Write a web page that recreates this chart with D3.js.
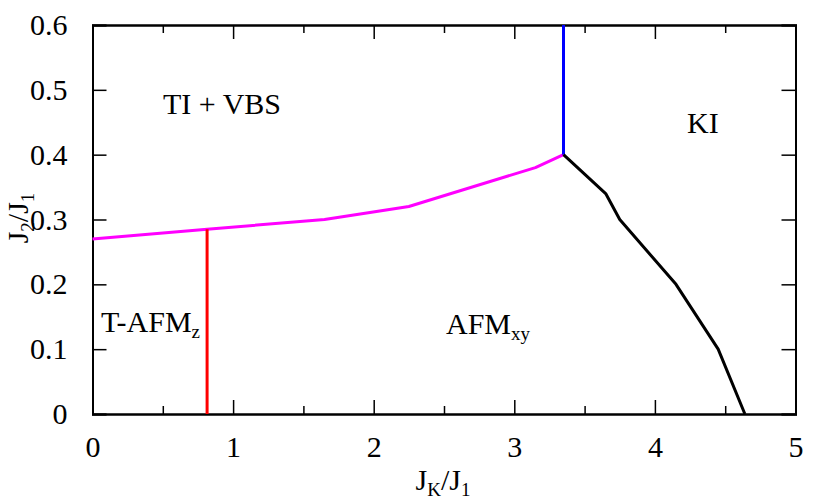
<!DOCTYPE html>
<html><head><meta charset="utf-8">
<script src="https://cdn.jsdelivr.net/npm/d3@7"></script>
<style>body{margin:0;background:#fff}</style>
</head><body>
<svg id="c" width="833" height="503" font-family="'Liberation Serif', 'DejaVu Serif', 'Noto Serif', serif"></svg>
<script>
const xTicks=[0,1,2,3,4,5];
const xMinor=[0.5,1.5,2.5,3.5,4.5];
const yTicks=[0,0.1,0.2,0.3,0.4,0.5,0.6];
const yTickLabels=["0","0.1","0.2","0.3","0.4","0.5","0.6"];
const magentaX=[0,0.815,1.65,2.25,3.15,3.35];
const magentaY=[0.27,0.285,0.30,0.32,0.38,0.40];
const blueX=[3.35,3.35];
const blueY=[0.40,0.60];
const blackX=[3.35,3.65,3.75,4.15,4.45,4.64];
const blackY=[0.40,0.34,0.30,0.20,0.10,0.0];
const redX=[0.815,0.815];
const redY=[0.0,0.285];

const FONT="'Liberation Serif', 'DejaVu Serif', 'Noto Serif', serif";
const svg=d3.select("#c");
const L=92.5,R=795.5,T=25,B=414;
const x=d3.scaleLinear().domain([0,5]).range([L,R]);
const y=d3.scaleLinear().domain([0,0.6]).range([B,T]);
const fs=30;

function line(xs,ys,color){
  const pts=xs.map((v,i)=>[v,ys[i]]);
  svg.append("path").datum(pts).attr("fill","none").attr("stroke",color).attr("stroke-width",3)
    .attr("stroke-linejoin","round").attr("d",d3.line().x(d=>x(d[0])).y(d=>y(d[1])));
}
const g=svg.append("g");
g.append("g").attr("transform",`translate(0,${B})`).call(d3.axisBottom(x).tickValues(xTicks).tickSize(-14).tickFormat(d3.format("d")).tickPadding(22));
g.append("g").attr("transform",`translate(0,${B})`).call(d3.axisBottom(x).tickValues(xMinor).tickSize(-8).tickFormat(""));
g.append("g").attr("transform",`translate(0,${T})`).call(d3.axisTop(x).tickValues(xTicks).tickSize(-14).tickFormat(""));
g.append("g").attr("transform",`translate(0,${T})`).call(d3.axisTop(x).tickValues(xMinor).tickSize(-8).tickFormat(""));
g.append("g").attr("transform",`translate(${L},0)`).call(d3.axisLeft(y).tickValues(yTicks).tickSize(-14).tickFormat((d,i)=>yTickLabels[i]).tickPadding(25));
g.append("g").attr("transform",`translate(${R},0)`).call(d3.axisRight(y).tickValues(yTicks).tickSize(-14).tickFormat(""));
g.selectAll("g").attr("font-family",FONT).attr("font-size",fs);
g.selectAll(".domain").attr("stroke","#000").attr("stroke-width",2);
g.selectAll(".tick line").attr("stroke","#000").attr("stroke-width",1.5);
g.selectAll(".tick text").attr("font-family",FONT).attr("font-size",fs).attr("fill","#000");

line(magentaX,magentaY,"#ff00ff");
line(blueX,blueY,"#0000ff");
line(blackX,blackY,"#000000");
line(redX,redY,"#ff0000");

function lab(tx,ty,main,sub){
  const t=svg.append("text").attr("x",tx).attr("y",ty).attr("font-family",FONT).attr("font-size",fs);
  t.append("tspan").text(main);
  if(sub){t.append("tspan").attr("dy",6).attr("font-size",19).text(sub);}
  return t;
}
lab(163,114,"TI + VBS");
lab(687,133,"KI");
lab(101,332,"T-AFM","z");
lab(446,334,"AFM","xy");
const xt=svg.append("text").attr("x",443).attr("y",490).attr("text-anchor","middle").attr("font-family",FONT).attr("font-size",fs);
xt.append("tspan").text("J");xt.append("tspan").attr("dy",6).attr("font-size",19).text("K");
xt.append("tspan").attr("dy",-6).text("/J");xt.append("tspan").attr("dy",6).attr("font-size",19).text("1");
const yt=svg.append("text").attr("transform","translate(28,218) rotate(-90)").attr("text-anchor","middle").attr("font-family",FONT).attr("font-size",fs);
yt.append("tspan").text("J");yt.append("tspan").attr("dy",6).attr("font-size",19).text("2");
yt.append("tspan").attr("dy",-6).text("/J");yt.append("tspan").attr("dy",6).attr("font-size",19).text("1");
</script></body></html>
